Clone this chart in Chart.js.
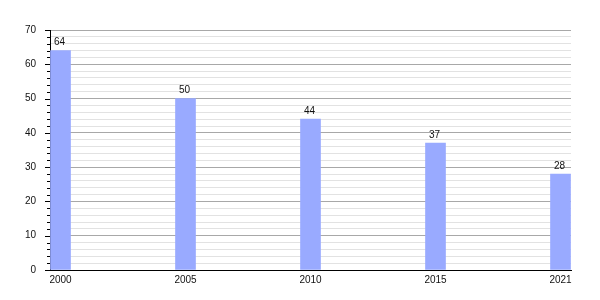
<!DOCTYPE html>
<html>
<head>
<meta charset="utf-8">
<script src="https://cdn.jsdelivr.net/npm/chart.js@4"></script>
<style>
html,body{margin:0;padding:0;background:#fff;}
#wrap{width:600px;height:300px;}
</style>
</head>
<body>
<div id="wrap"><canvas id="c" width="600" height="300"></canvas></div>
<script>
const categories = ["2000", "2005", "2010", "2015", "2021"];
const values = [64, 50, 44, 37, 28];
const yTicks = [0, 10, 20, 30, 40, 50, 60, 70];

const FONT = '"Liberation Sans", Arial, sans-serif';
const points = values.map((v, i) => ({x: i, y: v}));

const tickMarks = {
  id: 'tickMarks',
  afterDraw(chart) {
    const ys = chart.scales.y;
    const ctx = chart.ctx;
    const left = chart.chartArea.left;
    ctx.save();
    ctx.strokeStyle = '#000';
    ctx.lineWidth = 1;
    ys.ticks.forEach(t => {
      const py = Math.round(ys.getPixelForValue(t.value)) + 0.5;
      const len = (t.value % 10 === 0) ? 5 : 3;
      ctx.beginPath();
      ctx.moveTo(left - len, py);
      ctx.lineTo(left, py);
      ctx.stroke();
    });
    ctx.restore();
  }
};

const valueLabels = {
  id: 'valueLabels',
  afterDatasetsDraw(chart) {
    const ctx = chart.ctx;
    const meta = chart.getDatasetMeta(0);
    ctx.save();
    ctx.font = '10px ' + FONT;
    ctx.fillStyle = '#111';
    ctx.textAlign = 'center';
    ctx.textBaseline = 'bottom';
    meta.data.forEach((bar, i) => {
      ctx.fillText(String(values[i]), bar.x - 1, bar.y - 3);
    });
    ctx.restore();
  }
};

new Chart(document.getElementById('c'), {
  type: 'bar',
  data: {
    datasets: [{
      data: points,
      backgroundColor: '#99aaff',
      borderWidth: 0,
      barThickness: 20
    }]
  },
  options: {
    responsive: false,
    animation: false,
    layout: {padding: {top: 30, right: 29, left: 0, bottom: 0}},
    plugins: {legend: {display: false}, tooltip: {enabled: false}},
    scales: {
      x: {
        type: 'linear',
        offset: false,
        min: -0.084,
        max: 4.084,
        afterBuildTicks: axis => { axis.ticks = categories.map((c, i) => ({value: i})); },
        afterFit: s => { s.height = 30; },
        grid: {display: false, drawTicks: false, offset: false},
        border: {display: true, color: '#000', width: 1},
        ticks: {
          autoSkip: false,
          maxRotation: 0,
          padding: 4,
          color: '#111',
          font: {family: FONT, size: 10},
          callback: v => categories[v] !== undefined ? categories[v] : ''
        }
      },
      y: {
        min: 0,
        max: 70,
        afterBuildTicks: axis => {
          const t = [];
          for (let v = 0; v <= 70; v += 2) t.push({value: v});
          axis.ticks = t;
        },
        afterFit: s => { s.width = 50; },
        grid: {
          drawTicks: false,
          color: c => (c.tick && c.tick.value % 10 === 0) ? '#a8a8a8' : '#e2e2e2',
          lineWidth: 1
        },
        border: {display: true, color: '#000', width: 1},
        ticks: {
          autoSkip: false,
          padding: 14,
          color: '#111',
          font: {family: FONT, size: 10},
          callback: v => yTicks.includes(v) ? String(v) : ''
        }
      }
    }
  },
  plugins: [tickMarks, valueLabels]
});
</script>
</body>
</html>
